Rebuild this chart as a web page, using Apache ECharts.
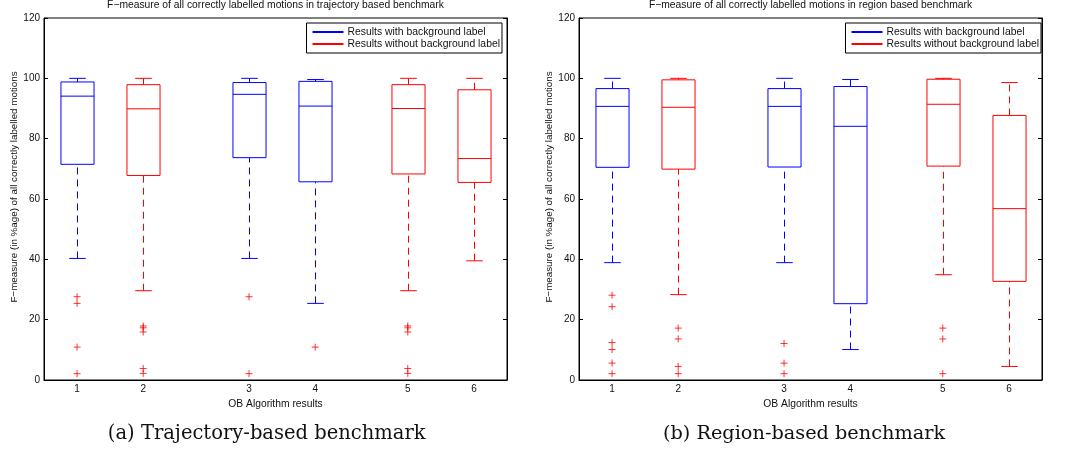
<!DOCTYPE html>
<html>
<head>
<meta charset="utf-8">
<script src="https://cdn.jsdelivr.net/npm/echarts@6/dist/echarts.min.js"></script>
<style>
html,body{margin:0;padding:0;background:#fff;}
#chart{width:1066px;height:454px;}
</style>
</head>
<body>
<div id="chart"></div>
<script>
// ---------------- data ----------------
const positions = [1, 2, 3.6, 4.6, 6, 7];
const tickLabels = ['1', '2', '3', '4', '5', '6'];
const yTicks = [0, 20, 40, 60, 80, 100, 120];
const seriesNames = ['Results with background label', 'Results without background label'];
const withBgIdx = [0, 2, 3];
const withoutBgIdx = [1, 4, 5];

// [lower whisker, Q1, median, Q3, upper whisker]
const trajStats = [
  [40.3, 71.5, 94.1, 98.8, 100],
  [29.6, 67.8, 89.9, 97.9, 100],
  [40.3, 73.7, 94.7, 98.6, 100],
  [25.4, 65.7, 90.8, 99.0, 99.6],
  [29.6, 68.3, 90.0, 97.9, 100],
  [39.5, 65.5, 73.4, 96.2, 100]
];
const trajOutliers = [
  [27.6, 25.4, 10.9, 2.1],
  [17.9, 17.3, 15.9, 3.8, 2.2],
  [27.6, 2.1],
  [10.9],
  [17.9, 17.3, 15.9, 3.8, 2.2],
  []
];
const regionStats = [
  [38.9, 70.5, 90.7, 96.6, 100],
  [28.3, 69.9, 90.4, 99.5, 100],
  [38.9, 70.6, 90.7, 96.6, 100],
  [10.1, 25.3, 84.1, 97.3, 99.6],
  [34.9, 70.9, 91.4, 99.7, 100],
  [4.5, 32.7, 56.8, 87.7, 98.6]
];
const regionOutliers = [
  [28.1, 24.3, 12.4, 10.1, 5.6, 2.1],
  [17.2, 13.6, 4.5, 2.1],
  [12.1, 5.6, 2.1],
  [],
  [17.2, 13.6, 2.1],
  []
];
const chartTitles = [
  'F\u2212measure of all correctly labelled motions in trajectory based benchmark',
  'F\u2212measure of all correctly labelled motions in region based benchmark'
];
const captions = ['(a) Trajectory-based benchmark', '(b) Region-based benchmark'];
const xName = 'OB Algorithm results';
const yName = 'F\u2212measure (in %age) of all correctly labelled motions';

// ---------------- style ----------------
const BLUE = '#0000ff', RED = '#ff0000';
const BOX_WIDTH = 0.5;
const FONT = 'Liberation Sans, Arial, Helvetica, sans-serif';
const SERIF = 'DejaVu Serif, Liberation Serif, serif';
const grids = [
  {left: 44, right: 559, top: 18, bottom: 74},
  {left: 579, right: 24, top: 18, bottom: 74}
];

function boxRenderer(params, api) {
  const x = api.value(0);
  const lo = api.coord([x, api.value(1)]);
  const q1 = api.coord([x, api.value(2)]);
  const md = api.coord([x, api.value(3)]);
  const q3 = api.coord([x, api.value(4)]);
  const hi = api.coord([x, api.value(5)]);
  const halfBox = api.size([BOX_WIDTH, 0])[0] / 2;
  const halfCap = halfBox / 2;
  const color = api.visual('color');
  const cx = Math.round(q1[0]) + 0.5;
  const solid = {stroke: color, lineWidth: 1, fill: null};
  const dashed = {stroke: color, lineWidth: 1, lineDash: [7, 5], fill: null};
  return {
    type: 'group',
    children: [
      {type: 'line', shape: {x1: cx, y1: q3[1], x2: cx, y2: hi[1]}, style: dashed},
      {type: 'line', shape: {x1: cx, y1: lo[1], x2: cx, y2: q1[1]}, style: dashed},
      {type: 'line', shape: {x1: cx - halfCap, y1: hi[1], x2: cx + halfCap, y2: hi[1]}, style: solid},
      {type: 'line', shape: {x1: cx - halfCap, y1: lo[1], x2: cx + halfCap, y2: lo[1]}, style: solid},
      {type: 'rect', shape: {x: cx - halfBox, y: q3[1], width: 2 * halfBox, height: q1[1] - q3[1]}, style: solid},
      {type: 'line', shape: {x1: cx - halfBox, y1: md[1], x2: cx + halfBox, y2: md[1]}, style: solid}
    ]
  };
}

function boxData(stats, idxs) {
  return idxs.map(i => [positions[i]].concat(stats[i]));
}
function outlierData(outs) {
  const d = [];
  outs.forEach((arr, i) => arr.forEach(v => d.push([positions[i], v])));
  return d;
}

const xAxes = [], yAxes = [], series = [], legends = [];
[[trajStats, trajOutliers], [regionStats, regionOutliers]].forEach((pair, g) => {
  xAxes.push({
    type: 'value', gridIndex: g, min: 0.5, max: 7.5,
    name: xName, nameLocation: 'middle', nameGap: 15,
    nameTextStyle: {fontFamily: FONT, fontSize: 10.3, color: '#111'},
    axisLine: {show: true, lineStyle: {color: '#000', width: 1}},
    axisTick: {show: false},
    splitLine: {show: false},
    axisLabel: {
      customValues: positions, margin: 4,
      fontFamily: FONT, fontSize: 10, color: '#111',
      formatter: v => tickLabels[positions.indexOf(v)]
    }
  });
  const yBase = {
    type: 'value', gridIndex: g, min: 0, max: 120, interval: 20,
    axisLine: {show: true, lineStyle: {color: '#000', width: 1}},
    axisTick: {show: true, inside: true, length: 4, lineStyle: {color: '#000'}},
    splitLine: {show: false}
  };
  yAxes.push(Object.assign({}, yBase, {
    position: 'left',
    name: yName, nameLocation: 'middle', nameRotate: 90, nameGap: 25,
    nameTextStyle: {fontFamily: FONT, fontSize: 9.8, color: '#111', padding: [0, 0, 0, 24]},
    axisLabel: {fontFamily: FONT, fontSize: 10, color: '#111', margin: 4,
      formatter: v => (yTicks.indexOf(v) >= 0 ? String(v) : '')}
  }));
  yAxes.push(Object.assign({}, yBase, {position: 'right', axisLabel: {show: false}}));
  const yi = g * 2;
  series.push({
    type: 'custom', name: seriesNames[0], xAxisIndex: g, yAxisIndex: yi,
    renderItem: boxRenderer, itemStyle: {color: BLUE}, silent: true,
    encode: {x: 0, y: [1, 2, 3, 4, 5]},
    data: boxData(pair[0], withBgIdx)
  });
  series.push({
    type: 'custom', name: seriesNames[1], xAxisIndex: g, yAxisIndex: yi,
    renderItem: boxRenderer, itemStyle: {color: RED}, silent: true,
    encode: {x: 0, y: [1, 2, 3, 4, 5]},
    data: boxData(pair[0], withoutBgIdx)
  });
  series.push({
    type: 'scatter', xAxisIndex: g, yAxisIndex: yi, silent: true,
    symbol: 'path://M5,0 L5,10 M0,5 L10,5', symbolSize: 7,
    itemStyle: {color: 'none', borderColor: RED, borderWidth: 1},
    data: outlierData(pair[1])
  });
});

legends.push({
  data: seriesNames, orient: 'vertical', right: 564, top: 23,
  backgroundColor: '#fff', borderColor: '#000', borderWidth: 1,
  padding: [3, 2, 3, 6], itemGap: 0, itemWidth: 31, itemHeight: 2, icon: 'rect',
  selectedMode: false,
  textStyle: {fontFamily: FONT, fontSize: 10.4, color: '#111', lineHeight: 12, padding: [0, 0, 0, -1]}
});
legends.push(Object.assign({}, legends[0], {right: 25}));

const option = {
  animation: false,
  backgroundColor: '#fff',
  title: [
    {text: chartTitles[0], left: 275.5, top: 0, textAlign: 'center', padding: 0,
     textStyle: {fontFamily: FONT, fontSize: 10.3, fontWeight: 'normal', color: '#111'}},
    {text: chartTitles[1], left: 810.5, top: 0, textAlign: 'center', padding: 0,
     textStyle: {fontFamily: FONT, fontSize: 10.3, fontWeight: 'normal', color: '#111'}},
    {text: captions[0], left: 266.7, top: 424, textAlign: 'center', padding: 0,
     textStyle: {fontFamily: SERIF, fontSize: 19.5, fontWeight: 'normal', color: '#111'}},
    {text: captions[1], left: 804, top: 424, textAlign: 'center', padding: 0,
     textStyle: {fontFamily: SERIF, fontSize: 19.3, fontWeight: 'normal', color: '#111'}}
  ],
  legend: legends,
  grid: grids.map(g => Object.assign({show: true, borderColor: '#000', borderWidth: 1, backgroundColor: '#fff'}, g)),
  xAxis: xAxes,
  yAxis: yAxes,
  series: series
};

const chart = echarts.init(document.getElementById('chart'), null, {renderer: 'canvas'});
chart.setOption(option);
</script>
</body>
</html>
